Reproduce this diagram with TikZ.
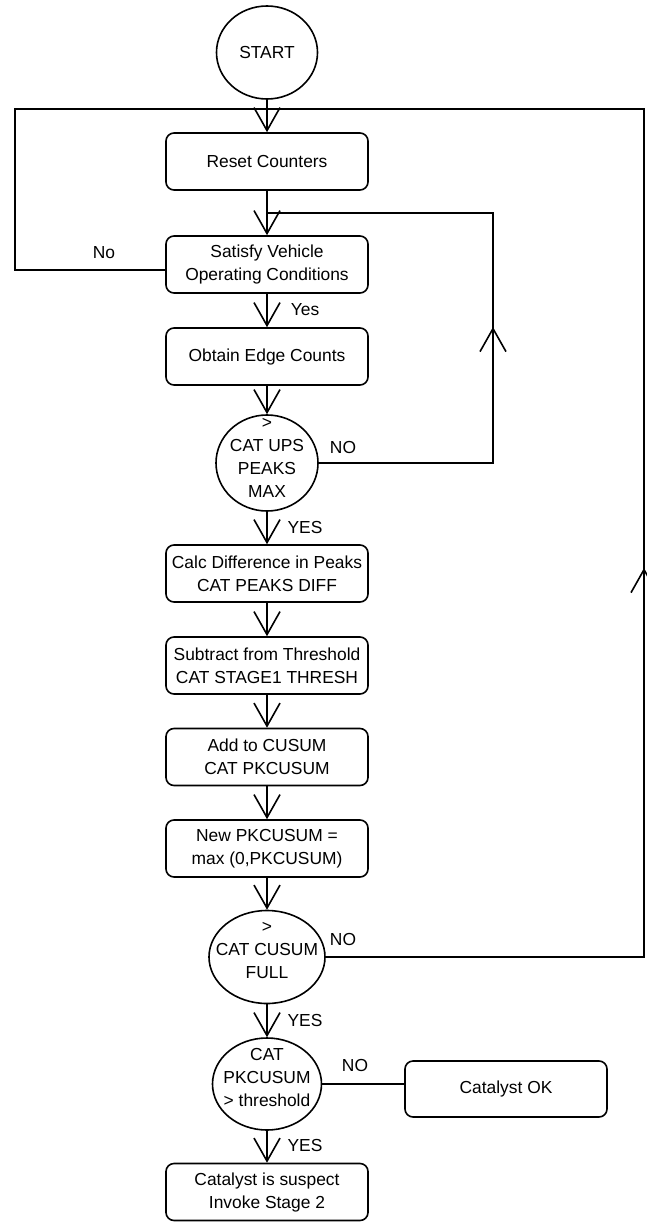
\documentclass[tikz,border=0pt]{standalone}
\usepackage{fontspec}
\setmainfont{Liberation Sans}
\usetikzlibrary{arrows.meta,shapes.geometric}
\begin{document}
\begin{tikzpicture}[x=1pt,y=-1pt,line width=1.6pt,
  every node/.style={font=\fontsize{17.4}{23}\selectfont, inner sep=0pt},
  proc/.style={draw, rectangle, rounded corners=8pt, minimum width=202pt, minimum height=57pt, align=center},
  dec/.style={draw, ellipse},
  txt/.style={align=center},
  lbl/.style={anchor=base},
  arr/.style={-{Straight Barb[length=23pt,width=26pt]}}]
\useasboundingbox (0,0) rectangle (646,1222);
% nodes
\node[dec, minimum width=101pt, minimum height=93pt] (start) at (267,52.5) {START};
\node[proc] (reset) at (267,161.5) {Reset Counters};
\node[proc] (satisfy) at (267,264.5) {Satisfy Vehicle\\Operating Conditions};
\node[proc] (obtain) at (267,356.5) {Obtain Edge Counts};
\node[dec, minimum width=102pt, minimum height=96pt] (ups) at (267,463) {};
\node[txt] (upsT) at (267,458) {>\\CAT UPS\\PEAKS\\MAX};
\node[proc] (calc) at (267,573.5) {Calc Difference in Peaks\\CAT PEAKS DIFF};
\node[proc] (subtract) at (267,665.5) {Subtract from Threshold\\CAT STAGE1 THRESH};
\node[proc] (add) at (267,757) {Add to CUSUM\\CAT PKCUSUM};
\node[proc] (new) at (267,848.5) {New PKCUSUM =\\max (0,PKCUSUM)};
\node[dec, minimum width=116pt, minimum height=93pt] (cusum) at (267,957) {};
\node[txt] (cusumT) at (267,951) {>\\CAT CUSUM\\FULL};
\node[dec, minimum width=109pt, minimum height=92pt] (pk) at (267,1084) {};
\node[txt] (pkT) at (267,1077) {CAT\\PKCUSUM\\> threshold};
\node[proc, minimum height=56pt] (ok) at (506,1089) {Catalyst OK};
\node[proc] (suspect) at (267,1192) {Catalyst is suspect\\Invoke Stage 2};
% loop corners
\coordinate (innerB) at (493,463);
\coordinate (innerT) at (493,213);
\coordinate (innerJ) at (267,213);
\coordinate (innerA) at (493,327);
\coordinate (oBR) at (644,957);
\coordinate (oTR) at (644,109);
\coordinate (oTL) at (15,109);
\coordinate (oBL) at (15,270);
\coordinate (oA) at (644,568);
% connectors
\draw[arr] (start) -- (reset);
\draw[arr] (reset) -- (satisfy);
\draw[arr] (satisfy) -- (obtain);
\draw[arr] (obtain) -- (ups);
\draw[arr] (ups) -- (calc);
\draw[arr] (calc) -- (subtract);
\draw[arr] (subtract) -- (add);
\draw[arr] (add) -- (new);
\draw[arr] (new) -- (cusum);
\draw[arr] (cusum) -- (pk);
\draw[arr] (pk) -- (suspect);
\draw (pk.east) -- (pk.east -| ok.west);
\draw (ups.east) -- (innerB) -- (innerT) -- (innerJ);
\draw[arr] (innerB) -- (innerA);
\draw (cusum.east) -- (oBR) -- (oTR) -- (oTL) -- (oBL) -- (satisfy.west |- oBL);
\draw[arr] (oBR) -- (oA);
% labels
\node[lbl] (noL) at (104,259) {No};
\node[lbl] (yes1) at (305,315) {Yes};
\node[lbl] (no1) at (343,453) {NO};
\node[lbl] (yes2) at (305,533) {YES};
\node[lbl] (no2) at (343,945) {NO};
\node[lbl] (yes3) at (305,1026) {YES};
\node[lbl] (no3) at (355,1071) {NO};
\node[lbl] (yes4) at (305,1151) {YES};
\end{tikzpicture}
\end{document}
